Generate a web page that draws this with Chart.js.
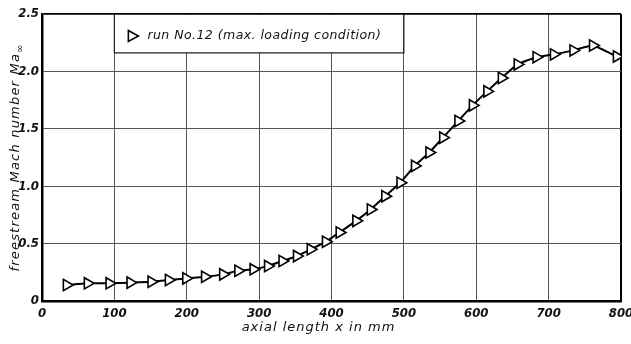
<!DOCTYPE html>
<html>
<head>
<meta charset="utf-8">
<script src="https://cdn.jsdelivr.net/npm/chart.js@4/dist/chart.umd.min.js"></script>
<style>
  body { margin: 0; background: #fff; }
  #wrap { width: 631px; height: 344px; }
</style>
</head>
<body>
<div id="wrap"><canvas id="chart" width="631" height="344"></canvas></div>
<script>
// measured points, run No.12
const axialLength = [34, 63, 93, 122, 151, 175, 199, 225, 250, 271, 292, 312, 332, 352, 371, 392, 411, 434,
    454, 474, 495, 515, 535, 554, 575, 595, 615, 635, 657, 683, 707, 734, 761, 794];
const machNumber = [0.139, 0.154, 0.154, 0.160, 0.168, 0.183, 0.197, 0.211, 0.232, 0.263, 0.276, 0.304, 0.348,
    0.391, 0.450, 0.516, 0.597, 0.698, 0.797, 0.913, 1.030, 1.177, 1.293, 1.423, 1.568, 1.704, 1.826, 1.942,
    2.061, 2.124, 2.148, 2.183, 2.226, 2.130];
const xTicks = [0, 100, 200, 300, 400, 500, 600, 700, 800];
const yTicks = [0, 0.5, 1.0, 1.5, 2.0, 2.5];
const seriesLabel = 'run No.12 (max. loading condition)';
const xTitle = 'axial length x in mm';
const yTitle = 'freestream Mach number Ma';
const yTitleSub = '∞';

const font = 'DejaVu Sans';
const tickFont = { family: '"Liberation Sans Narrow", "DejaVu Sans Condensed", sans-serif', style: 'italic', weight: 'bold', size: 13 };

// white box with the legend text, sitting in the upper left of the grid
const legendBox = {
    id: 'legendBox',
    beforeDatasetsDraw(chart) {
        const { ctx, scales: { x, y } } = chart;
        const l = x.getPixelForValue(100), r = x.getPixelForValue(500);
        const t = chart.chartArea.top, b = y.getPixelForValue(2.162);
        ctx.save();
        ctx.fillStyle = '#fff';
        ctx.fillRect(l + 1, t + 1, r - l - 2, b - t - 1);
        ctx.strokeStyle = '#222';
        ctx.lineWidth = 1.2;
        ctx.beginPath();
        ctx.moveTo(l, t); ctx.lineTo(l, b); ctx.lineTo(r, b); ctx.lineTo(r, t);
        ctx.stroke();
        // marker
        const mx = l + 18, my = t + 22;
        ctx.beginPath();
        ctx.moveTo(mx - 4, my - 5.5); ctx.lineTo(mx + 6, my); ctx.lineTo(mx - 4, my + 5.5); ctx.closePath();
        ctx.fillStyle = '#fff'; ctx.fill();
        ctx.strokeStyle = '#000'; ctx.lineWidth = 1.6; ctx.stroke();
        ctx.fillStyle = '#111';
        ctx.font = 'oblique 12.5px "' + font + '"';
        ctx.letterSpacing = '0.45px';
        ctx.textBaseline = 'middle';
        ctx.fillText(seriesLabel, l + 33, my);
        ctx.restore();
    }
};

// axis titles (the y title carries a subscript)
const axisTitles = {
    id: 'axisTitles',
    afterDraw(chart) {
        const { ctx, chartArea } = chart;
        ctx.save();
        ctx.fillStyle = '#111';
        ctx.textBaseline = 'middle';
        ctx.font = 'oblique 13px "' + font + '"';
        ctx.letterSpacing = '1px';
        ctx.textAlign = 'center';
        ctx.fillText(xTitle, (chartArea.left + chartArea.right) / 2 - 13, 328);

        ctx.letterSpacing = '1.2px';
        ctx.textAlign = 'left';
        const mainW = ctx.measureText(yTitle).width;
        ctx.font = 'oblique 10px "' + font + '"';
        const subW = ctx.measureText(yTitleSub).width;
        const total = mainW + subW;
        ctx.translate(16, (chartArea.top + chartArea.bottom) / 2);
        ctx.rotate(-Math.PI / 2);
        ctx.font = 'oblique 13px "' + font + '"';
        ctx.fillText(yTitle, -total / 2, 0);
        ctx.font = 'oblique 10px "' + font + '"';
        ctx.fillText(yTitleSub, -total / 2 + mainW, 4);
        ctx.restore();
    }
};

new Chart(document.getElementById('chart'), {
    type: 'line',
    data: {
        datasets: [{
            label: seriesLabel,
            data: axialLength.map((v, i) => ({ x: v, y: machNumber[i] })),
            borderColor: '#000',
            borderWidth: 2,
            tension: 0.15,
            pointStyle: 'triangle',
            rotation: 90,
            pointRadius: 6.5,
            pointBackgroundColor: '#fff',
            pointBorderColor: '#000',
            pointBorderWidth: 1.6
        }]
    },
    options: {
        responsive: false,
        animation: false,
        devicePixelRatio: 1,
        layout: { padding: { left: 0, right: 10, top: 14, bottom: 0 } },
        plugins: {
            legend: { display: false },
            tooltip: { enabled: false }
        },
        scales: {
            x: {
                type: 'linear',
                min: 0,
                max: 800,
                afterBuildTicks: s => { s.ticks = xTicks.map(v => ({ value: v })); },
                afterFit: s => { s.height = 43; s.paddingLeft = 0; s.paddingRight = 0; },
                grid: {
                    color: ctx => (ctx.tick && ctx.tick.value === 800 ? '#000' : '#555'),
                    lineWidth: ctx => (ctx.tick && ctx.tick.value === 800 ? 2 : 1),
                    drawTicks: false
                },
                border: { color: '#000', width: 2.5 },
                ticks: {
                    padding: 5,
                    color: '#111',
                    maxRotation: 0,
                    font: tickFont,
                    callback: v => String(v)
                }
            },
            y: {
                type: 'linear',
                min: 0,
                max: 2.5,
                afterBuildTicks: s => { s.ticks = yTicks.map(v => ({ value: v })); },
                afterFit: s => { s.width = 42; s.paddingTop = 0; s.paddingBottom = 0; },
                grid: {
                    color: ctx => (ctx.tick && ctx.tick.value === 2.5 ? '#000' : '#555'),
                    lineWidth: ctx => (ctx.tick && ctx.tick.value === 2.5 ? 1.8 : 1),
                    drawTicks: false
                },
                border: { color: '#000', width: 2.5 },
                ticks: {
                    padding: 3,
                    color: '#111',
                    font: tickFont,
                    callback: v => (v === 0 ? '0' : v.toFixed(1))
                }
            }
        }
    },
    plugins: [legendBox, axisTitles]
});
</script>
</body>
</html>
